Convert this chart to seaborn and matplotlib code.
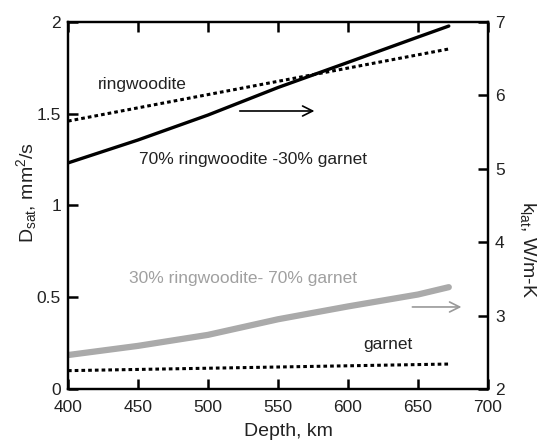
import matplotlib
matplotlib.use("Agg")
import matplotlib.pyplot as plt
import seaborn as sns

# Data, D_sat in mm^2/s on left axis
depth_rw = [400, 672]
d_rw = [1.46, 1.853]

depth_mix70 = [400, 450, 500, 550, 600, 650, 672]
d_mix70 = [1.232, 1.357, 1.493, 1.643, 1.78, 1.918, 1.978]

depth_mix30 = [400, 450, 500, 550, 600, 650, 672]
d_mix30 = [0.185, 0.235, 0.295, 0.38, 0.45, 0.515, 0.555]

depth_gt = [400, 672]
d_gt = [0.10, 0.136]

xticks = [400, 450, 500, 550, 600, 650, 700]
yticks_left = [0, 0.5, 1, 1.5, 2]
ytick_labels_left = ['0', '0.5', '1', '1.5', '2']
yticks_right = [2, 3, 4, 5, 6, 7]

sns.set_style("ticks")
plt.rcParams['font.family'] = ['Liberation Sans', 'DejaVu Sans']
plt.rcParams['mathtext.fontset'] = 'custom'
plt.rcParams['mathtext.rm'] = 'Liberation Sans'
plt.rcParams['mathtext.it'] = 'Liberation Sans'
plt.rcParams.update({
    'axes.axisbelow': False,
    'axes.linewidth': 1.6, 'axes.edgecolor': 'black',
})

W, H = 542, 446
fig = plt.figure(figsize=(W / 100, H / 100), dpi=100)
ax = fig.add_axes([68/W, 1-389/H, (488-68)/W, (389-22)/H])

dot = (0, (1.2, 1.0))
sns.lineplot(x=depth_rw, y=d_rw, ax=ax, color='black', lw=2.2, linestyle=dot)
sns.lineplot(x=depth_mix70, y=d_mix70, ax=ax, color='black', lw=2.4)
sns.lineplot(x=depth_mix30, y=d_mix30, ax=ax, color='#aaaaaa', lw=4.5)
sns.lineplot(x=depth_gt, y=d_gt, ax=ax, color='black', lw=2.2, linestyle=dot)

ax.set_xlim(400, 700)
ax.set_ylim(0, 2)
ax.set_xticks(xticks)
ax.set_xticklabels([str(v) for v in xticks])
ax.set_yticks(yticks_left)
ax.set_yticklabels(ytick_labels_left)
ax.set_xlabel('')
ax.set_ylabel('')
ax.tick_params(axis='x', direction='in', length=7, width=1.8, color='black',
               top=True, bottom=True, labelsize=12.5, labelcolor='#222222', pad=8)
ax.tick_params(axis='y', direction='in', length=7, width=1.8, color='black',
               left=True, right=False, labelsize=12.5, labelcolor='#222222', pad=5)

ax2 = ax.twinx()
ax2.set_ylim(2, 7)
ax2.set_yticks(yticks_right)
ax2.set_yticklabels([str(v) for v in yticks_right])
ax2.tick_params(axis='y', direction='in', length=7, width=1.8, color='black',
                labelsize=12.5, labelcolor='#222222', pad=5)

fig.text(288/W, 1-432/H, 'Depth, km', fontsize=14, ha='center', va='center', color='#222222')
fig.text(27/W, 1-192/H, r'D$_{\mathregular{sat}}$, mm$^{\mathregular{2}}$/s', fontsize=14,
         rotation=90, ha='center', va='center', color='#222222')
fig.text(528/W, 1-250/H, r'k$_{\mathregular{lat}}$, W/m-K', fontsize=14,
         rotation=270, ha='center', va='center', color='#222222')

ax.text(452.9, 1.657, 'ringwoodite', fontsize=12.5, ha='center', va='center', color='#222222')
ax.text(532, 1.248, '70% ringwoodite -30% garnet', fontsize=12.5, ha='center', va='center', color='#222222')
ax.text(525, 0.60, '30% ringwoodite- 70% garnet', fontsize=12.5, ha='center', va='center', color='#a0a0a0')
ax.text(628.6, 0.24, 'garnet', fontsize=12.5, ha='center', va='center', color='#222222')

ax.annotate('', xy=(578, 1.515), xytext=(520.7, 1.515),
            arrowprops=dict(arrowstyle='->', color='black', lw=1.2, mutation_scale=18))
ax.annotate('', xy=(683, 0.447), xytext=(644, 0.447),
            arrowprops=dict(arrowstyle='->', color='#999999', lw=1.2, mutation_scale=18))

fig.savefig('out.png', dpi=100)
